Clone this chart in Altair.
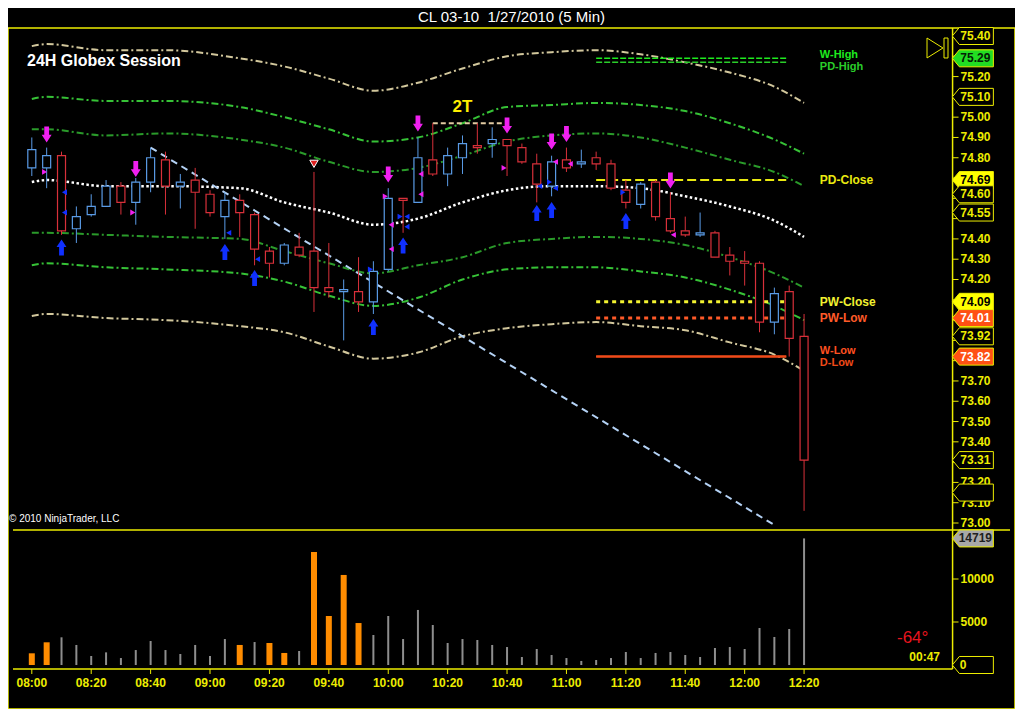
import altair as alt
import pandas as pd

FONT = "Liberation Sans"
YEL = "#EDED00"
UP = "#5A9BE6"
DN = "#D8303A"
TAN = "#D2C79C"
G_OUT = "#36C236"
G_IN = "#2A9A2A"
MAG = "#F020F0"
BLU = "#1030FF"

# ---------------- data ----------------
bar_times = ["08:00", "08:05", "08:10", "08:15", "08:20", "08:25", "08:30", "08:35", "08:40", "08:45", "08:50", "08:55",
             "09:00", "09:05", "09:10", "09:15", "09:20", "09:25", "09:30", "09:35", "09:40", "09:45", "09:50", "09:55",
             "10:00", "10:05", "10:10", "10:15", "10:20", "10:25", "10:30", "10:35", "10:40", "10:45", "10:50", "10:55",
             "11:00", "11:05", "11:10", "11:15", "11:20", "11:25", "11:30", "11:35", "11:40", "11:45", "11:50", "11:55",
             "12:00", "12:05", "12:10", "12:15", "12:20"]
opens = [74.75, 74.75, 74.81, 74.45, 74.52, 74.56, 74.66, 74.58, 74.68, 74.79, 74.66, 74.69, 74.62, 74.51, 74.59,
         74.52, 74.34, 74.28, 74.36, 74.34, 74.16, 74.14, 74.14, 74.09, 74.25, 74.60, 74.58, 74.79, 74.72, 74.80,
         74.86, 74.87, 74.89, 74.85, 74.77, 74.66, 74.79, 74.77, 74.80, 74.77, 74.64, 74.57, 74.68, 74.50, 74.44,
         74.42, 74.43, 74.32, 74.29, 74.28, 73.99, 74.14, 73.92]
highs = [74.90, 74.85, 74.83, 74.56, 74.62, 74.69, 74.68, 74.70, 74.85, 74.83, 74.72, 74.75, 74.64, 74.63, 74.62,
         74.53, 74.36, 74.38, 74.43, 74.73, 74.38, 74.20, 74.31, 74.29, 74.65, 74.60, 74.90, 74.97, 74.85, 74.91,
         74.97, 74.95, 74.89, 74.87, 74.82, 74.81, 74.85, 74.84, 74.83, 74.79, 74.69, 74.68, 74.69, 74.63, 74.51,
         74.53, 74.44, 74.36, 74.34, 74.29, 74.16, 74.17, 74.03]
lows = [74.71, 74.65, 74.42, 74.38, 74.51, 74.56, 74.52, 74.47, 74.63, 74.52, 74.55, 74.45, 74.51, 74.40, 74.41,
        74.27, 74.21, 74.27, 74.31, 74.04, 74.11, 73.90, 74.04, 74.03, 74.24, 74.43, 74.58, 74.71, 74.66, 74.72,
        74.82, 74.80, 74.71, 74.77, 74.58, 74.61, 74.73, 74.75, 74.74, 74.64, 74.55, 74.55, 74.49, 74.43, 74.41,
        74.41, 74.31, 74.22, 74.17, 73.94, 73.93, 73.82, 73.06]
closes = [74.84, 74.81, 74.44, 74.51, 74.56, 74.66, 74.58, 74.68, 74.80, 74.66, 74.68, 74.63, 74.53, 74.59, 74.53,
          74.35, 74.28, 74.37, 74.32, 74.16, 74.14, 74.15, 74.09, 74.24, 74.60, 74.59, 74.80, 74.72, 74.81, 74.87,
          74.85, 74.89, 74.86, 74.78, 74.67, 74.78, 74.75, 74.78, 74.77, 74.65, 74.58, 74.67, 74.51, 74.44, 74.42,
          74.43, 74.31, 74.29, 74.28, 73.99, 74.13, 73.91, 73.31]
volume = [1360, 2640, 3220, 2330, 1050, 1470, 810, 1740, 2790, 1740, 1280, 2330, 1050, 3020, 2330, 2670, 2560,
          1400, 1630, 13140, 5700, 10470, 4880, 3490, 5700, 3020, 6400, 4650, 2560, 3020, 2910, 2330, 2090, 930,
          1860, 1160, 810, 470, 580, 810, 1510, 810, 1400, 1510, 1160, 930, 1980, 2090, 1860, 4300, 3260, 4190,
          14719]
vol_hot = [1, 1, 0, 0, 0, 0, 0, 0, 0, 0, 0, 0, 0, 0, 1, 0, 1, 1, 0, 1, 1, 1, 1, 0, 0, 0, 0, 0, 0, 0, 0, 0, 0,
           0, 0, 0, 0, 0, 0, 0, 0, 0, 0, 0, 0, 0, 0, 0, 0, 0, 0, 0, 0]

# envelope bands, sampled at these bars
band_bars = [0, 1, 5, 9, 14, 17, 20, 23, 26, 29, 32, 35, 38, 41, 44, 47, 50, 52]
band_up3 = [75.35, 75.36, 75.33, 75.33, 75.29, 75.25, 75.19, 75.13, 75.17, 75.24, 75.30, 75.32, 75.33, 75.31, 75.27, 75.22, 75.15, 75.07]
band_up2 = [75.09, 75.10, 75.08, 75.08, 75.05, 75.00, 74.94, 74.88, 74.90, 74.97, 75.05, 75.06, 75.07, 75.06, 75.03, 74.97, 74.89, 74.82]
band_up1 = [74.94, 74.94, 74.91, 74.92, 74.89, 74.85, 74.78, 74.73, 74.75, 74.81, 74.88, 74.91, 74.92, 74.90, 74.85, 74.79, 74.73, 74.66]
band_mid = [74.68, 74.69, 74.66, 74.66, 74.65, 74.58, 74.53, 74.47, 74.50, 74.58, 74.64, 74.66, 74.66, 74.65, 74.61, 74.56, 74.49, 74.41]
band_lo1 = [74.43, 74.43, 74.42, 74.41, 74.40, 74.34, 74.28, 74.23, 74.27, 74.31, 74.38, 74.40, 74.41, 74.40, 74.37, 74.31, 74.23, 74.16]
band_lo2 = [74.27, 74.28, 74.26, 74.25, 74.23, 74.19, 74.12, 74.07, 74.11, 74.20, 74.25, 74.26, 74.26, 74.24, 74.21, 74.15, 74.07, 74.00]
band_lo3 = [74.02, 74.03, 74.01, 74.00, 73.97, 73.94, 73.87, 73.81, 73.84, 73.92, 73.96, 73.98, 73.99, 73.97, 73.95, 73.89, 73.83, 73.75]

# signal arrows (bar index, price)
down_arrow_bars = [1, 7, 24, 26, 32, 35, 36, 43]
down_arrow_prices = [74.915, 74.745, 74.717, 74.969, 74.959, 74.88, 74.917, 74.688]
up_arrow_bars = [2, 13, 15, 23, 25, 34, 35, 40]
up_arrow_prices = [74.358, 74.336, 74.207, 73.966, 74.368, 74.528, 74.543, 74.488]

# small triangles (minute, price, shape, colour)
tri_minutes = [4.3, 34, 119, 159, 121, 121, 131, 131, 176.3, 181.3, 216,
               11, 11, 66.3, 76, 126.3, 126.3, 171, 176.3, 114, 124, 174.3, 199]
tri_prices = [74.73, 74.53, 74.61, 74.75, 74.47, 74.35, 74.72, 74.62, 74.78, 74.77, 74.42,
              74.63, 74.53, 74.43, 74.30, 74.51, 74.46, 74.66, 74.65, 74.25, 74.51, 74.68, 74.63]
tri_shapes = ["triangle-right"] * 4 + ["triangle-left"] * 7 + ["triangle-left"] * 8 + ["triangle-right"] * 4
tri_colors = [MAG] * 11 + [BLU] * 12

# horizontal levels
level_names = ["W-High", "PD-High", "PD-Close", "PW-Close", "PW-Low", "W-Low", "D-Low"]
level_prices = [75.29, 75.27, 74.69, 74.09, 74.01, 73.82, 73.82]
level_label_prices = [75.305, 75.245, 74.69, 74.09, 74.01, 73.848, 73.79]
level_colors = ["#1EEB1E", "#2ACD2A", "#EAEA10", "#F2F230", "#FF5A28", "#FF5020", "#F04A18"]
level_dash = [[6, 2], [6, 2], [9, 4], [4, 4], [4, 4], [1, 0], [1, 0]]
level_width = [1.5, 1.5, 2, 3, 3, 2, 2]
level_font = [11, 11, 12, 12, 12, 11, 11]

# right-axis price markers
box_prices = [75.40, 75.29, 75.10, 74.69, 74.62, 74.53, 74.09, 74.01, 73.92, 73.82, 73.31, 73.15]
box_texts = ["75.40", "75.29", "75.10", "74.69", "74.60", "74.55", "74.09", "74.01", "73.92", "73.82", "73.31", ""]
box_fills = ["black", "#22DD22", "black", "#FFFF00", "black", "black", "#FFFF00", "#FF5014", "black", "#FF5014", "black", "black"]
box_text_colors = [YEL, "#052005", YEL, "black", YEL, YEL, "black", "white", YEL, "white", YEL, YEL]

price_ticks = [73.0, 73.1, 73.2, 73.3, 73.4, 73.5, 73.6, 73.7, 73.8, 73.9, 74.0, 74.1, 74.2, 74.3, 74.4,
               74.5, 74.6, 74.7, 74.8, 74.9, 75.0, 75.1, 75.2, 75.3, 75.4]
price_tick_labels = ["73.00", "73.10", "73.20", "", "73.40", "73.50", "73.60", "73.70", "", "", "", "",
                     "74.20", "74.30", "74.40", "", "", "", "74.80", "74.90", "75.00", "", "75.20", "", ""]
time_ticks = ["08:00", "08:20", "08:40", "09:00", "09:20", "09:40", "10:00", "10:20", "10:40",
              "11:00", "11:20", "11:40", "12:00", "12:20"]
vol_ticks = [5000, 10000]
vol_tick_labels = ["5000", "10000"]


def mins(s):
    h, m = s.split(":")
    return (int(h) - 8) * 60 + int(m)


bar_t = [mins(s) for s in bar_times]
bars = pd.DataFrame({"t": bar_t, "o": opens, "h": highs, "l": lows, "c": closes, "v": volume})
bars["dir"] = ["up" if c >= o else "down" for o, c in zip(opens, closes)]
bars["vcol"] = ["#FF8C00" if k else "#8E8E8E" for k in vol_hot]
bars["vw"] = [6 if k else 2 for k in vol_hot]

# ---------------- layout ----------------
W, H = 1007, 681          # one view holding both panes
X0 = 19                   # pixel of 08:00 in the view
PPM = 3                   # pixels per minute
XDOM = [-X0 / PPM, (W - X0) / PPM]
AXM = 310                 # minute at which the right axis sits
PRICE_DOM = [72.0834, 75.4394]     # price pane: top 502 px of the view
PANE_SPLIT = 72.9655               # price at the pane divider
VOL_DOM = [-5116, 74070]           # volume pane: bottom 179 px of the view
VOL_TOP = 15698
VOL_AXIS = -465

xs = alt.Scale(domain=XDOM, nice=False, zero=False)
ys = alt.Scale(domain=PRICE_DOM, nice=False, zero=False)
vs = alt.Scale(domain=VOL_DOM, nice=False, zero=False)


def X(f="t"):
    return alt.X(f"{f}:Q", scale=xs, axis=None)


def Y(f):
    return alt.Y(f"{f}:Q", scale=ys, axis=None)


def V(f):
    return alt.Y(f"{f}:Q", scale=vs, axis=None, stack=None)


dirscale = alt.Scale(domain=["up", "down"], range=[UP, DN])
DASHDOT = [7, 3, 2, 3]
BOX_PATH = "M -1 0 L -0.66 -0.415 L 1 -0.415 L 1 0.415 L -0.66 0.415 Z"
DOWN_PATH = "M -0.3 -1 L 0.3 -1 L 0.3 0.05 L 0.62 0.05 L 0 1 L -0.62 0.05 L -0.3 0.05 Z"
UP_PATH = "M -0.3 1 L 0.3 1 L 0.3 -0.05 L 0.62 -0.05 L 0 -1 L -0.62 -0.05 L -0.3 -0.05 Z"
ICON_PATH = "M -1 -0.95 L 0.52 0 L -1 0.95 Z M 0.62 -0.95 L 1 -0.95 L 1 0.95 L 0.62 0.95 Z"
BOX_X = AXM + 20.5 / PPM
TXT_X = AXM + 23 / PPM
LAB_X = AXM + 8 / PPM

layers = []
band_t = [bar_t[i] for i in band_bars]
for vals, col, dash, sw in [(band_up3, TAN, DASHDOT, 2), (band_up2, G_OUT, DASHDOT, 2),
                            (band_up1, G_IN, DASHDOT, 2), (band_lo1, G_IN, DASHDOT, 2),
                            (band_lo2, G_OUT, DASHDOT, 2), (band_lo3, TAN, DASHDOT, 2),
                            (band_mid, "white", [2.5, 2.5], 2.5)]:
    df = pd.DataFrame({"t": band_t, "p": vals})
    layers.append(alt.Chart(df).mark_line(color=col, strokeDash=dash, strokeWidth=sw,
                                          interpolate="monotone").encode(x=X(), y=Y("p")))

for p, col, dash, w in zip(level_prices, level_colors, level_dash, level_width):
    df = pd.DataFrame({"t1": [190], "t2": [254], "p": [p]})
    layers.append(alt.Chart(df).mark_rule(color=col, strokeDash=dash, strokeWidth=w).encode(
        x=X("t1"), x2="t2:Q", y=Y("p")))

# 2T line and trendline
layers.append(alt.Chart(pd.DataFrame({"t1": [135], "t2": [158.3], "p": [74.97]})).mark_rule(
    color="#E2CBA2", strokeDash=[5, 3], strokeWidth=2).encode(x=X("t1"), x2="t2:Q", y=Y("p")))
layers.append(alt.Chart(pd.DataFrame({"t": [40, 250], "p": [74.85, 72.99]})).mark_line(
    color="#B4D2F5", strokeDash=[7, 5], strokeWidth=2).encode(x=X(), y=Y("p")))

# candles
layers.append(alt.Chart(bars).mark_rule(strokeWidth=1).encode(
    x=X(), y=Y("l"), y2="h:Q", color=alt.Color("dir:N", scale=dirscale, legend=None)))
layers.append(alt.Chart(bars).mark_bar(size=8, fill="black", strokeWidth=1.2).encode(
    x=X(), y=Y("o"), y2="c:Q", stroke=alt.Stroke("dir:N", scale=dirscale, legend=None)))

# signals
dn = pd.DataFrame({"t": [bar_t[i] for i in down_arrow_bars], "p": down_arrow_prices})
up = pd.DataFrame({"t": [bar_t[i] for i in up_arrow_bars], "p": up_arrow_prices})
layers.append(alt.Chart(dn).mark_point(shape=DOWN_PATH, size=256, filled=True, color=MAG, opacity=1).encode(
    x=X(), y=Y("p")))
layers.append(alt.Chart(up).mark_point(shape=UP_PATH, size=256, filled=True, color=BLU, opacity=1).encode(
    x=X(), y=Y("p")))
tri = pd.DataFrame({"t": tri_minutes, "p": tri_prices, "s": tri_shapes, "c": tri_colors})
layers.append(alt.Chart(tri).mark_point(filled=True, size=34, opacity=1).encode(
    x=X(), y=Y("p"), shape=alt.Shape("s:N", scale=None), color=alt.Color("c:N", scale=None)))
layers.append(alt.Chart(pd.DataFrame({"t": [95], "p": [74.77]})).mark_point(
    shape="triangle-down", size=70, filled=True, color="#E02020", stroke="white", strokeWidth=1,
    opacity=1).encode(x=X(), y=Y("p")))

# level labels
lv = pd.DataFrame({"t": [265.3] * len(level_names), "p": level_label_prices, "n": level_names,
                   "c": level_colors, "fs": level_font})
layers.append(alt.Chart(lv).mark_text(align="left", baseline="middle", font=FONT,
                                      fontWeight="bold").encode(
    x=X(), y=Y("p"), text="n:N", color=alt.Color("c:N", scale=None), size=alt.Size("fs:Q", scale=None)))

# 2T text
layers.append(alt.Chart(pd.DataFrame({"t": [145], "p": [75.05], "s": ["2T"]})).mark_text(
    font=FONT, fontSize=17, fontWeight="bold", color="#FFEE00", baseline="middle").encode(
    x=X(), y=Y("p"), text="s:N"))

# pane divider, axis lines, ticks and tick labels
layers.append(alt.Chart(pd.DataFrame({"t1": [XDOM[0]], "t2": [XDOM[1]], "p": [PANE_SPLIT]})).mark_rule(
    color=YEL, strokeWidth=1.5).encode(x=X("t1"), x2="t2:Q", y=Y("p")))
layers.append(alt.Chart(pd.DataFrame({"t": [AXM], "p1": [PANE_SPLIT], "p2": [PRICE_DOM[1]]})).mark_rule(
    color=YEL, strokeWidth=1.5).encode(x=X(), y=Y("p1"), y2="p2:Q"))
pt = pd.DataFrame({"t1": [AXM] * len(price_ticks), "t2": [AXM + 2] * len(price_ticks),
                   "tl": [LAB_X] * len(price_ticks), "p": price_ticks, "s": price_tick_labels})
layers.append(alt.Chart(pt).mark_rule(color=YEL, strokeWidth=1).encode(x=X("t1"), x2="t2:Q", y=Y("p")))
layers.append(alt.Chart(pt).mark_text(align="left", baseline="middle", font=FONT, fontSize=12,
                                      fontWeight="bold", color=YEL).encode(x=X("tl"), y=Y("p"), text="s:N"))

# right-axis markers
bx = pd.DataFrame({"t": [BOX_X] * len(box_prices), "tt": [TXT_X] * len(box_prices), "p": box_prices,
                   "f": box_fills, "s": box_texts, "tc": box_text_colors})
layers.append(alt.Chart(bx).mark_point(shape=BOX_PATH, size=1681, filled=True, opacity=1,
                                       stroke=YEL, strokeWidth=1).encode(
    x=X(), y=Y("p"), fill=alt.Fill("f:N", scale=None)))
layers.append(alt.Chart(bx).mark_text(font=FONT, fontSize=12, fontWeight="bold", baseline="middle").encode(
    x=X("tt"), y=Y("p"), text="s:N", color=alt.Color("tc:N", scale=None)))

# fixed annotations
layers.append(alt.Chart(pd.DataFrame({"s": ["24H Globex Session"]})).mark_text(
    align="left", baseline="middle", font=FONT, fontSize=16, fontWeight="bold", color="white").encode(
    x=alt.value(19), y=alt.value(33), text="s:N"))
layers.append(alt.Chart(pd.DataFrame({"s": ["\u00a9 2010 NinjaTrader, LLC"]})).mark_text(
    align="left", baseline="middle", font=FONT, fontSize=10, color="white").encode(
    x=alt.value(1), y=alt.value(491), text="s:N"))
layers.append(alt.Chart(pd.DataFrame({"a": [0]})).mark_point(
    shape=ICON_PATH, size=441, filled=False, color=YEL, strokeWidth=1, opacity=1).encode(
    x=alt.value(929.5), y=alt.value(20)))

# ---------------- volume pane ----------------
layers.append(alt.Chart(bars).mark_bar().encode(
    x=X(), y=V("v"), color=alt.Color("vcol:N", scale=None), size=alt.Size("vw:Q", scale=None)))
layers.append(alt.Chart(pd.DataFrame({"t1": [XDOM[0]], "t2": [AXM], "v": [VOL_AXIS]})).mark_rule(
    color=YEL, strokeWidth=1.5).encode(x=X("t1"), x2="t2:Q", y=V("v")))
layers.append(alt.Chart(pd.DataFrame({"t": [AXM], "v1": [VOL_AXIS], "v2": [VOL_TOP]})).mark_rule(
    color=YEL, strokeWidth=1.5).encode(x=X(), y=V("v1"), y2="v2:Q"))
tt = pd.DataFrame({"t": [mins(s) for s in time_ticks], "s": time_ticks,
                   "v1": [VOL_AXIS] * len(time_ticks), "v2": [-1046] * len(time_ticks),
                   "vl": [-2093] * len(time_ticks)})
layers.append(alt.Chart(tt).mark_rule(color=YEL, strokeWidth=1).encode(x=X(), y=V("v1"), y2="v2:Q"))
layers.append(alt.Chart(tt).mark_text(baseline="middle", font=FONT, fontSize=12, fontWeight="bold",
                                      color=YEL).encode(x=X(), y=V("vl"), text="s:N"))
vt = pd.DataFrame({"t1": [AXM] * 2, "t2": [AXM + 2] * 2, "tl": [LAB_X] * 2, "v": vol_ticks,
                   "s": vol_tick_labels})
layers.append(alt.Chart(vt).mark_rule(color=YEL, strokeWidth=1).encode(x=X("t1"), x2="t2:Q", y=V("v")))
layers.append(alt.Chart(vt).mark_text(align="left", baseline="middle", font=FONT, fontSize=12,
                                      fontWeight="bold", color=YEL).encode(x=X("tl"), y=V("v"), text="s:N"))
vbx = pd.DataFrame({"t": [BOX_X, BOX_X], "tt": [TXT_X, AXM + 10.5 / PPM], "v": [14719, 0],
                    "f": ["#A8A8A8", "black"], "s": ["14719", "0"], "tc": ["#202020", YEL]})
layers.append(alt.Chart(vbx).mark_point(shape=BOX_PATH, size=1681, filled=True, opacity=1,
                                        stroke=YEL, strokeWidth=1).encode(
    x=X(), y=V("v"), fill=alt.Fill("f:N", scale=None)))
layers.append(alt.Chart(vbx).mark_text(font=FONT, fontSize=12, fontWeight="bold", baseline="middle").encode(
    x=X("tt"), y=V("v"), text="s:N", color=alt.Color("tc:N", scale=None)))
layers.append(alt.Chart(pd.DataFrame({"s": ["-64\u00b0"]})).mark_text(
    align="left", baseline="middle", font=FONT, fontSize=17, color="#E8141E").encode(
    x=alt.value(889), y=alt.value(610), text="s:N"))
layers.append(alt.Chart(pd.DataFrame({"s": ["00:47"]})).mark_text(
    align="right", baseline="middle", font=FONT, fontSize=12, fontWeight="bold", color=YEL).encode(
    x=alt.value(932), y=alt.value(629), text="s:N"))

chart = alt.layer(*layers).resolve_scale(y="independent").properties(
    width=W, height=H,
    title=alt.TitleParams("CL 03-10\u00a0\u00a01/27/2010 (5 Min)", color="white", fontSize=15, font=FONT,
                          fontWeight="normal", anchor="middle", offset=0),
    padding={"top": 2, "left": 0, "right": 0, "bottom": 0}, background="black",
).configure_view(stroke=YEL, strokeWidth=1.5)

chart.save("out.html", embed_options={"renderer": "svg", "actions": False})
